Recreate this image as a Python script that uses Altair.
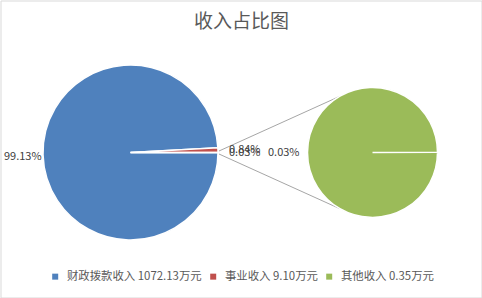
import math
import altair as alt
import pandas as pd

# ---- data ----
categories = ["财政拨款收入", "事业收入", "其他收入"]
values = [1072.13, 9.10, 0.35]
colors = ["#4f81bd", "#c0504d", "#9bbb59"]
unit = "万元"
title_text = "收入占比图"

total = sum(values)
pct_labels = [f"{v / total * 100:.2f}%" for v in values]
legend_labels = [f"{c} {v:.2f}{unit}" for c, v in zip(categories, values)]

# ---- layout constants ----
W, H = 481, 297
CX1, CY, R1 = 130, 152, 87.5
CX2, R2 = 372, 65
FONT = "Noto Sans CJK SC"
TWO_PI = 2 * math.pi

# main pie: last slice ("其他") centred at 3 o'clock
frac_before_mid = (total - values[-1] / 2) / total
start = math.pi / 2 + TWO_PI * (1 - frac_before_mid)
theta_main = alt.Scale(domain=[0, total], range=[start, start + TWO_PI])
theta_sub = alt.Scale(domain=[0, values[2]],
                      range=[math.pi / 2, math.pi / 2 + TWO_PI - 0.003])

main = pd.DataFrame({
    "legend": legend_labels,
    "value": values,
    "pct": pct_labels,
    "order": list(range(len(values))),
})
sub = pd.DataFrame({
    "legend": [legend_labels[2]],
    "value": [values[2]],
    "pct": [pct_labels[2]],
})

color = alt.Color(
    "legend:N",
    scale=alt.Scale(domain=legend_labels, range=colors),
    legend=alt.Legend(
        title=None, orient="none", legendX=49, legendY=270,
        direction="horizontal", symbolType="square", symbolSize=36,
        symbolStrokeWidth=0, labelFontSize=11.4, labelColor="#595959",
        labelFont=FONT, labelOffset=6, columnPadding=5, labelLimit=300,
    ),
)

pie1 = alt.Chart(main).mark_arc(outerRadius=R1, stroke="white", strokeWidth=1.5).encode(
    theta=alt.Theta("value:Q", stack=True, scale=theta_main),
    color=color,
    order=alt.Order("order:Q"),
    x=alt.value(CX1), y=alt.value(CY),
)

lab_left = alt.Chart(main).transform_calculate(
    t="datum.order == 0 ? datum.pct : ''"
).mark_text(radius=R1 + 1.5, align="right", baseline="middle", dy=2,
            fontSize=11, font=FONT, color="#404040").encode(
    theta=alt.Theta("value:Q", stack=True, scale=theta_main),
    order=alt.Order("order:Q"),
    text="t:N",
    x=alt.value(CX1), y=alt.value(CY),
)

lab_right = alt.Chart(main).transform_calculate(
    t="datum.order == 0 ? '' : datum.pct"
).mark_text(radius=R1 + 11, align="left", baseline="middle",
            fontSize=11, font=FONT, color="#404040").encode(
    theta=alt.Theta("value:Q", stack=True, scale=theta_main),
    order=alt.Order("order:Q"),
    text="t:N",
    x=alt.value(CX1), y=alt.value(CY),
)

pie2 = alt.Chart(sub).mark_arc(outerRadius=R2, stroke="white", strokeWidth=1.5).encode(
    theta=alt.Theta("value:Q", stack=True, scale=theta_sub),
    color=color,
    x=alt.value(CX2), y=alt.value(CY),
)

lab_sub = alt.Chart(sub).mark_text(radius=R2 + 8, align="right", baseline="middle",
                                   fontSize=11, font=FONT, color="#404040").encode(
    theta=alt.Theta("value:Q", stack=True, scale=theta_sub),
    text="pct:N",
    x=alt.value(CX2), y=alt.value(CY),
)

# connector lines from main pie's "其他" slice to the secondary pie
a_top, a_bot = math.radians(330), math.radians(210)
conn = pd.DataFrame({
    "x": [CX1 + R1 + 1, CX1 + R1 + 1],
    "y": [CY - 1.5, CY + 1.5],
    "x2": [CX2 + R2 * math.sin(a_top), CX2 + R2 * math.sin(a_bot)],
    "y2": [CY - R2 * math.cos(a_top), CY - R2 * math.cos(a_bot)],
})
lines = alt.Chart(conn).mark_rule(color="#a6a6a6", strokeWidth=1).encode(
    x=alt.X("x:Q", scale=None), y=alt.Y("y:Q", scale=None),
    x2="x2:Q", y2="y2:Q",
)

title = alt.Chart(pd.DataFrame({"t": [title_text]})).mark_text(
    fontSize=19, font=FONT, color="#595959", align="center", baseline="middle"
).encode(text="t:N", x=alt.value(241), y=alt.value(21))

chart = alt.layer(lines, pie1, pie2, lab_left, lab_right, lab_sub, title).resolve_scale(
    theta="independent"
).properties(
    width=W, height=H,
    autosize=alt.AutoSizeParams(type="none"),
    padding={"left": 0.5, "top": 0.5, "right": 0.5, "bottom": 0.5},
    background="white",
).configure_view(stroke="#d9d9d9", strokeWidth=1)

chart.save("out.html", embed_options={"renderer": "svg", "actions": False})
